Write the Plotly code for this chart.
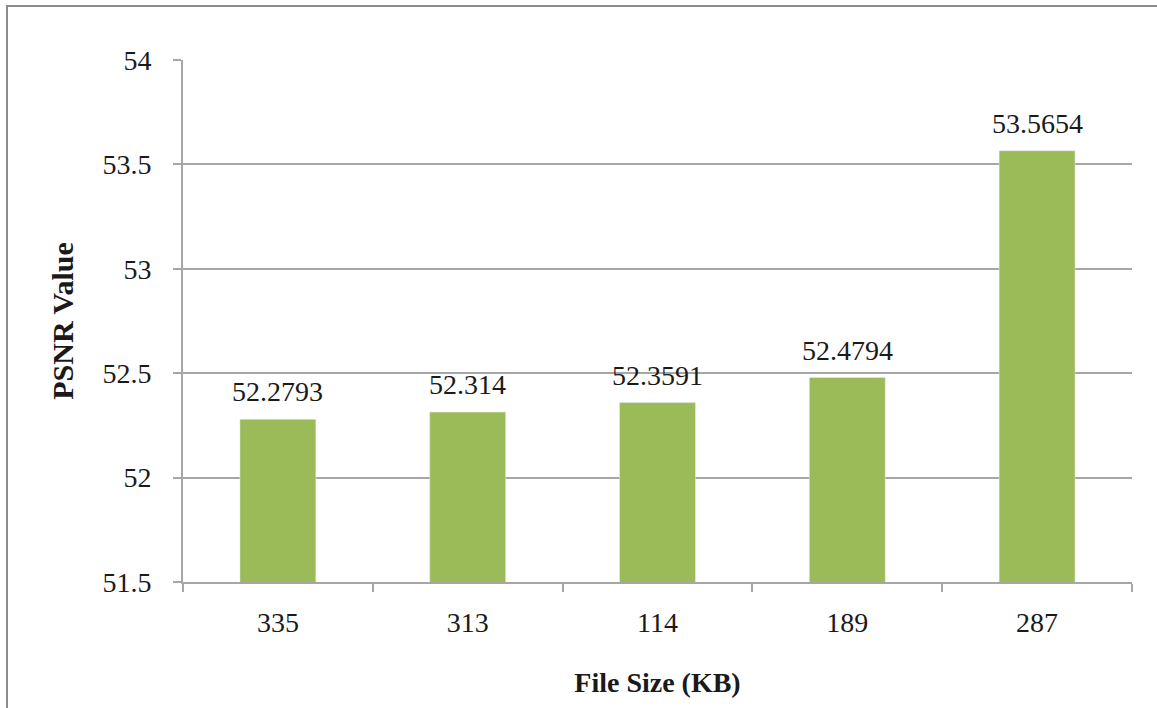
import base64
import plotly.graph_objects as go

# PSNR measured for each test file
file_sizes = ["335", "313", "114", "189", "287"]
psnr_values = [52.2793, 52.314, 52.3591, 52.4794, 53.5654]
y_ticks = [51.5, 52, 52.5, 53, 53.5, 54]

W, H = 1157, 708
L, R, T, B = 183, 25, 60, 126
PW, PH = W - L - R, H - T - B

SERIF = "Tinos"
GRID = "#a6a6a6"
TEXT = "#1a1a1a"

def serif(size):
    return dict(family=SERIF, size=size, color=TEXT)

fig = go.Figure()
fig.add_trace(go.Bar(
    x=file_sizes,
    y=psnr_values,
    marker=dict(color="#9bbb59"),
    width=0.4,
    showlegend=False,
))

# value labels above each bar (x given as category index)
for i, v in enumerate(psnr_values):
    fig.add_annotation(
        x=i, y=v, text=f"{v:g}", showarrow=False,
        yanchor="bottom", yshift=10,
        font=serif(28),
    )

# thin grey frame along the left and top edges, drawn as a background image
frame_svg = (
    f'<svg xmlns="http://www.w3.org/2000/svg" width="{W}" height="{H}" viewBox="0 0 {W} {H}">'
    f'<polyline points="7,{H} 7,6 {W},6" fill="none" stroke="#8c8c8c" stroke-width="2"/></svg>'
)
frame_src = "data:image/svg+xml;base64," + base64.b64encode(frame_svg.encode()).decode()
fig.add_layout_image(
    source=frame_src, xref="paper", yref="paper",
    x=-L / PW, y=1 + T / PH, sizex=W / PW, sizey=H / PH,
    xanchor="left", yanchor="top", sizing="stretch", layer="below",
)

fig.update_layout(
    width=W, height=H,
    margin=dict(l=L, r=R, t=T, b=B, pad=0),
    paper_bgcolor="white",
    plot_bgcolor="white",
    bargap=0.6,
    xaxis=dict(
        type="category",
        range=[-0.5, len(file_sizes) - 0.5],
        showline=True, linecolor=GRID, linewidth=2,
        ticks="outside", tickson="boundaries", ticklen=8, tickcolor=GRID, tickwidth=2,
        ticklabelstandoff=14,
        tickangle=0,
        tickfont=serif(28),
        title=dict(text="<b>File Size (KB)</b>", font=serif(28), standoff=36),
        showgrid=False, zeroline=False,
    ),
    yaxis=dict(
        range=[51.5, 54],
        tickvals=y_ticks,
        ticktext=[f"{t:g}" for t in y_ticks],
        showline=True, linecolor=GRID, linewidth=2,
        ticks="outside", ticklen=8, tickcolor=GRID, tickwidth=2,
        ticklabelstandoff=16,
        tickfont=serif(28),
        showgrid=True, gridcolor=GRID, gridwidth=2,
        zeroline=False,
        title=dict(text="<b>PSNR Value</b>", font=serif(30), standoff=20),
    ),
)

fig.write_html("out.html")
